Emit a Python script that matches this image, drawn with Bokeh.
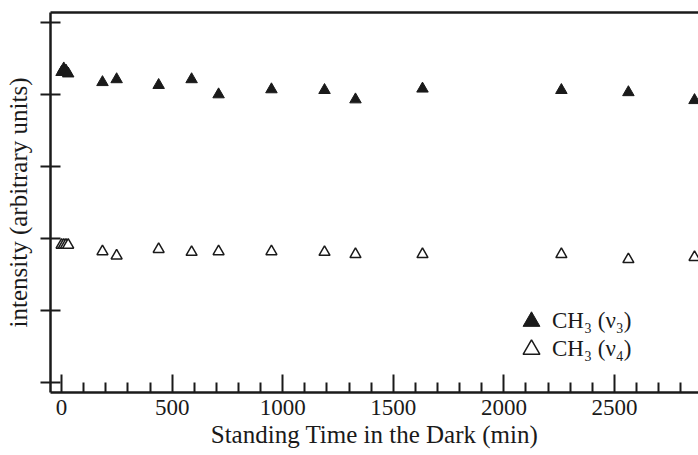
from bokeh.plotting import figure
from bokeh.models import LinearAxis, Legend, LegendItem, Range1d, FixedTicker, ColumnDataSource
from bokeh.embed import file_html
from bokeh.resources import INLINE

# ---- data ----
time_v3 = [0, 10, 20, 30, 185, 249, 439, 588, 710, 949, 1189, 1329, 1632, 2260, 2563, 2862]
int_v3 = [4.31, 4.36, 4.33, 4.29, 4.17, 4.21, 4.13, 4.21, 4.00, 4.07, 4.06, 3.93, 4.08, 4.06, 4.03, 3.92]
time_v4 = [0, 10, 20, 30, 185, 249, 439, 588, 710, 949, 1189, 1329, 1632, 2260, 2563, 2862]
int_v4 = [1.91, 1.91, 1.91, 1.91, 1.82, 1.76, 1.85, 1.81, 1.82, 1.82, 1.81, 1.78, 1.78, 1.78, 1.71, 1.74]
x_ticks = [0, 500, 1000, 1500, 2000, 2500]
x_minor = [m for m in range(0, 2900, 100) if m % 500]
y_ticks = [0, 1, 2, 3, 4, 5]
legend_labels = ["CH\u2083 (\u03bd\u2083)", "CH\u2083 (\u03bd\u2084)"]
x_title = "Standing Time in the Dark (min)"
y_title = "intensity (arbitrary units)"

FONT = "Liberation Serif"
INK = "#1a1a1a"

p = figure(width=698, height=455, output_backend="svg", toolbar_location=None,
           x_range=Range1d(-50, 2880), y_range=Range1d(-0.139, 5.139),
           min_border_left=50, min_border_right=0, min_border_top=12, min_border_bottom=63,
           x_axis_label=x_title, y_axis_label=y_title)
p.outline_line_color = None
p.grid.visible = False
p.background_fill_color = "white"

src3 = ColumnDataSource(dict(x=time_v3, y=int_v3))
src4 = ColumnDataSource(dict(x=time_v4, y=int_v4))
r3 = p.scatter("x", "y", source=src3, marker="triangle", size=11.5,
               fill_color=INK, line_color=INK, line_width=1)
r4 = p.scatter("x", "y", source=src4, marker="triangle", size=11,
               fill_color="white", line_color=INK, line_width=1.5)

xa = p.xaxis[0]
xa.ticker = FixedTicker(ticks=x_ticks, minor_ticks=x_minor)
xa.major_tick_in = 18
xa.major_tick_out = 0
xa.minor_tick_in = 10
xa.minor_tick_out = 0

ya = p.yaxis[0]
ya.ticker = FixedTicker(ticks=y_ticks, minor_ticks=[])
ya.major_tick_in = 10
ya.major_tick_out = 10
ya.minor_tick_line_color = None
ya.major_label_overrides = {t: "" for t in y_ticks}
ya.major_label_standoff = 0

for ax in (xa, ya):
    ax.axis_line_width = 2.5
    ax.axis_line_color = INK
    ax.major_tick_line_width = 2
    ax.minor_tick_line_width = 2
    ax.major_tick_line_color = INK
    ax.major_label_text_font = FONT
    ax.major_label_text_color = INK
    ax.axis_label_text_font = FONT
    ax.axis_label_text_font_style = "normal"
    ax.axis_label_text_font_size = "25px"
    ax.axis_label_text_color = INK
xa.minor_tick_line_color = INK

xa.major_label_text_font_size = "23px"
xa.major_label_standoff = 7
xa.axis_label_standoff = 3
ya.axis_label_standoff = 9

top = LinearAxis(ticker=FixedTicker(ticks=[], minor_ticks=[]), axis_line_width=2.5, axis_line_color=INK,
                 major_tick_line_color=None, minor_tick_line_color=None,
                 major_tick_out=0, minor_tick_out=0, major_tick_in=0, minor_tick_in=0,
                 major_label_standoff=0)
p.add_layout(top, "above")

common = dict(glyph_width=42, glyph_height=42, label_standoff=0, padding=0, margin=0,
              border_line_color=None, background_fill_alpha=0, label_text_font=FONT,
              label_text_font_size="23px", label_text_color=INK)
leg1 = Legend(items=[LegendItem(label=legend_labels[0], renderers=[r3])], location=(460, 50), **common)
leg2 = Legend(items=[LegendItem(label=legend_labels[1], renderers=[r4])], location=(460, 22), **common)
p.add_layout(leg1)
p.add_layout(leg2)

open("out.html", "w").write(file_html(p, INLINE))
